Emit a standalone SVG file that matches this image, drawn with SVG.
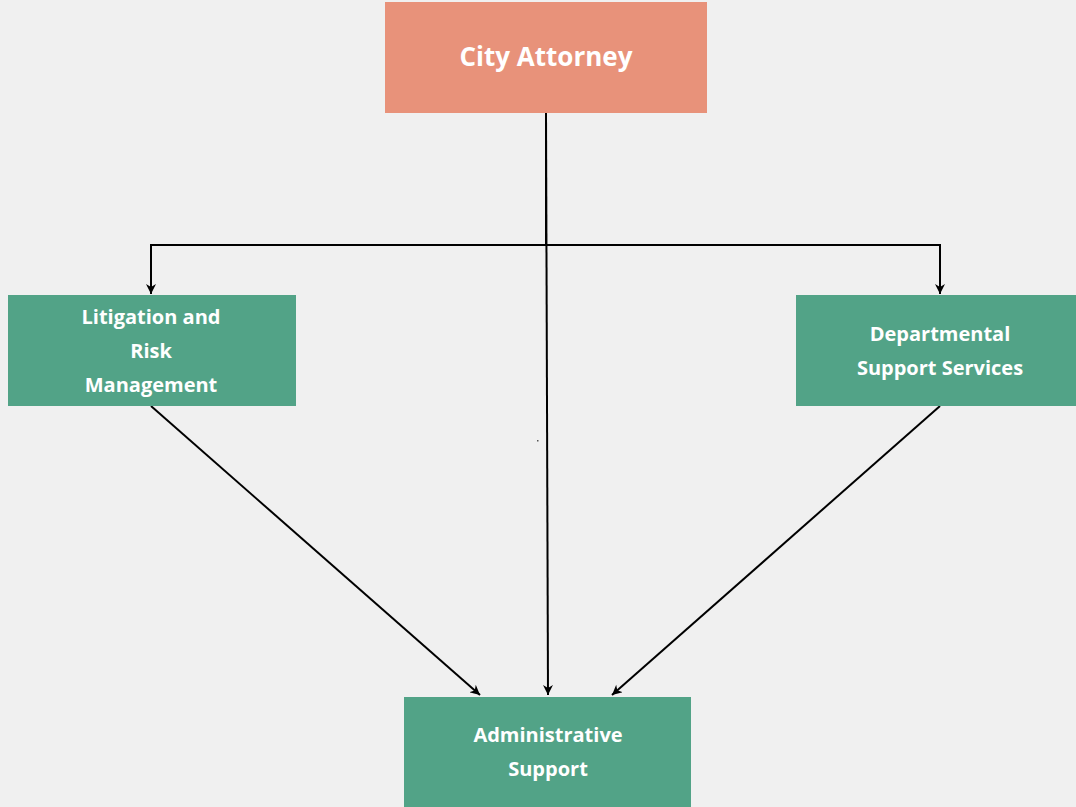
<svg xmlns="http://www.w3.org/2000/svg" width="1076" height="807" viewBox="0 0 1076 807">
<defs>
<style>
.t{font-family:"Open Sans","Noto Sans","Liberation Sans",sans-serif;font-weight:bold;fill:#fff;text-anchor:middle}
.s{font-size:20px}
.c{stroke:#000;stroke-width:2;fill:none}
.g{fill:#52A387}
</style>
<marker id="a" viewBox="0 0 10 10" refX="10" refY="5" markerWidth="11" markerHeight="10" orient="auto" markerUnits="userSpaceOnUse">
<path d="M0,0 L10,5 L0,10 L3,5 Z" fill="#000"/>
</marker>
</defs>
<rect width="1076" height="807" fill="#F0F0F0"/>
<g id="connectors">
<path class="c" d="M546,113 L546,245 L151,245 L151,294" marker-end="url(#a)"/>
<path class="c" d="M546,245 L940,245 L940,294" marker-end="url(#a)"/>
<path class="c" d="M546,113 L548,695" marker-end="url(#a)"/>
<path class="c" d="M151,406 L480,695" marker-end="url(#a)"/>
<path class="c" d="M940,406 L612,695" marker-end="url(#a)"/>
<rect x="537" y="440" width="1.5" height="1.5" fill="#555"/>
</g>
<g id="city-attorney">
<rect x="385" y="2" width="322" height="111" fill="#E8927A"/>
<text class="t" x="546" y="66" font-size="26">City Attorney</text>
</g>
<g id="litigation">
<rect class="g" x="8" y="295" width="288" height="111"/>
<text class="t s" x="151" y="324">Litigation and</text>
<text class="t s" x="151" y="358">Risk</text>
<text class="t s" x="151" y="392">Management</text>
</g>
<g id="departmental">
<rect class="g" x="796" y="295" width="280" height="111"/>
<text class="t s" x="940" y="341">Departmental</text>
<text class="t s" x="940" y="375">Support Services</text>
</g>
<g id="administrative">
<rect class="g" x="404" y="697" width="287" height="110"/>
<text class="t s" x="548" y="742">Administrative</text>
<text class="t s" x="548" y="776">Support</text>
</g>
</svg>
